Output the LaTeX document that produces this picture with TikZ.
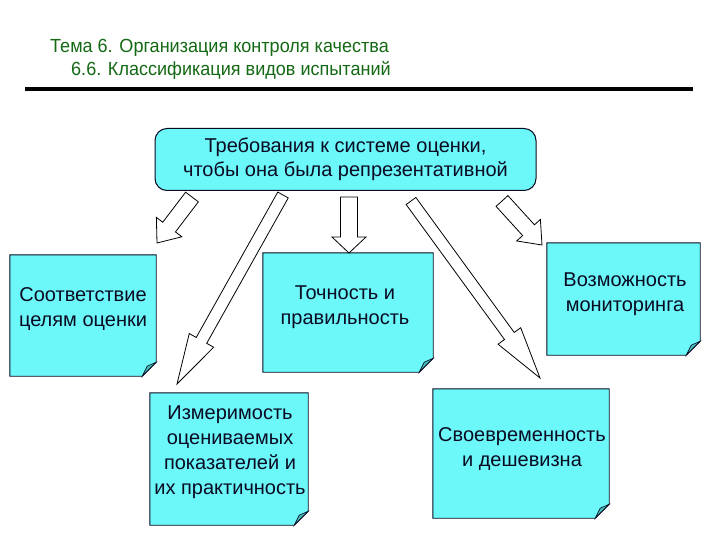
\documentclass[tikz,border=0pt]{standalone}
\usepackage{fontspec}
\setmainfont{Liberation Sans}
\newfontfamily\narrowfont[FakeStretch=0.95]{Liberation Sans}
\usetikzlibrary{calc}
\definecolor{boxcyan}{RGB}{108,248,248}
\definecolor{foldcyan}{RGB}{70,185,185}
\definecolor{titlegreen}{RGB}{20,105,20}
\definecolor{inkdark}{RGB}{10,10,35}
\newcommand\blkarrow[5]{%
  \coordinate (hb) at ($(#2)!#5!(#1)$);
  \draw[barrow] ($(#1)!#3!90:(#2)$) -- ($(hb)!#3!-90:(#1)$) -- ($(hb)!#4!-90:(#1)$) -- (#2)
    -- ($(hb)!#4!90:(#1)$) -- ($(hb)!#3!90:(#1)$) -- ($(#1)!#3!-90:(#2)$) -- cycle;}
\newcommand\notebox[1]{%
  \draw[noteline] (#1.north west) -- (#1.north east) -- ($(#1.south east)+(0pt,14pt)$)
    -- ($(#1.south east)+(-14pt,0pt)$) -- (#1.south west) -- cycle;
  \draw[foldline] ($(#1.south east)+(-14pt,0pt)$) .. controls ($(#1.south east)+(-11pt,6pt)$) .. ($(#1.south east)+(-9pt,10pt)$)
    -- ($(#1.south east)+(0pt,14pt)$) -- cycle;}
\tikzset{
  barrow/.style={fill=white,draw=black,line width=0.8pt,line join=miter},
  notetext/.style={inner sep=0pt,align=center,text=inkdark,font=\fontsize{20}{25}\selectfont},
  noteline/.style={fill=boxcyan,draw=inkdark,line width=0.9pt},
  foldline/.style={fill=foldcyan,draw=inkdark,line width=0.6pt},
  topbox/.style={fill=boxcyan,draw=inkdark,line width=1pt,rounded corners=12pt,inner sep=0pt,
    align=center,text=inkdark,font=\fontsize{20}{24}\selectfont},
  titletext/.style={anchor=base west,inner sep=0pt,text=titlegreen,font=\narrowfont\fontsize{19}{22}\selectfont}
}
\begin{document}
\begin{tikzpicture}[x=1pt,y=-1pt]
\useasboundingbox[fill=white] (0,0) rectangle (720,540);
% title
\node[titletext] (t1) at (50,53) {Тема 6. Организация контроля качества};
\node[titletext] (t2) at (71,76) {6.6. Классификация видов испытаний};
\coordinate (r1) at (25,89);
\coordinate (r2) at (693,89);
\draw[line width=3.5pt] (r1) -- (r2);
% top box
\node[topbox, minimum width=381pt, minimum height=62pt] (top) at (345.5,159.5)
  {Требования к системе оценки,\\чтобы она была репрезентативной};
% note boxes (outlines)
\node[inner sep=0pt, minimum width=146pt, minimum height=121pt] (b1) at (83,315.5) {};
\node[inner sep=0pt, minimum width=170pt, minimum height=119pt] (b2) at (348,312.5) {};
\node[inner sep=0pt, minimum width=153pt, minimum height=112pt] (b3) at (623.5,299) {};
\node[inner sep=0pt, minimum width=158pt, minimum height=132pt] (b4) at (229,459) {};
\node[inner sep=0pt, minimum width=176pt, minimum height=129pt] (b5) at (521,453.5) {};
\notebox{b1}
\notebox{b2}
\notebox{b3}
\notebox{b4}
\notebox{b5}
% texts
\node[notetext] (x1) at (83,309) {Соответствие\\целям оценки};
\node[notetext] (x2) at (345,307) {Точность и\\правильность};
\node[notetext] (x3) at (625,294) {Возможность\\мониторинга};
\node[notetext] (x4) at (230,452) {Измеримость\\оцениваемых\\показателей и\\их практичность};
\node[notetext] (x5) at (522,449) {Своевременность\\и дешевизна};
% arrows
\coordinate (a1s) at (192,197); \coordinate (a1e) at (157,243);
\coordinate (a2s) at (283,195); \coordinate (a2e) at (177,384);
\coordinate (a3s) at (349,197); \coordinate (a3e) at (349,253);
\coordinate (a4s) at (411,201); \coordinate (a4e) at (540,378);
\coordinate (a5s) at (502,201); \coordinate (a5e) at (542,245);
\blkarrow{a1s}{a1e}{8pt}{16pt}{20pt}
\blkarrow{a2s}{a2e}{6pt}{14pt}{50pt}
\blkarrow{a3s}{a3e}{8.5pt}{17pt}{16pt}
\blkarrow{a4s}{a4e}{6pt}{14pt}{52pt}
\blkarrow{a5s}{a5e}{8pt}{16pt}{20pt}
\end{tikzpicture}
\end{document}
